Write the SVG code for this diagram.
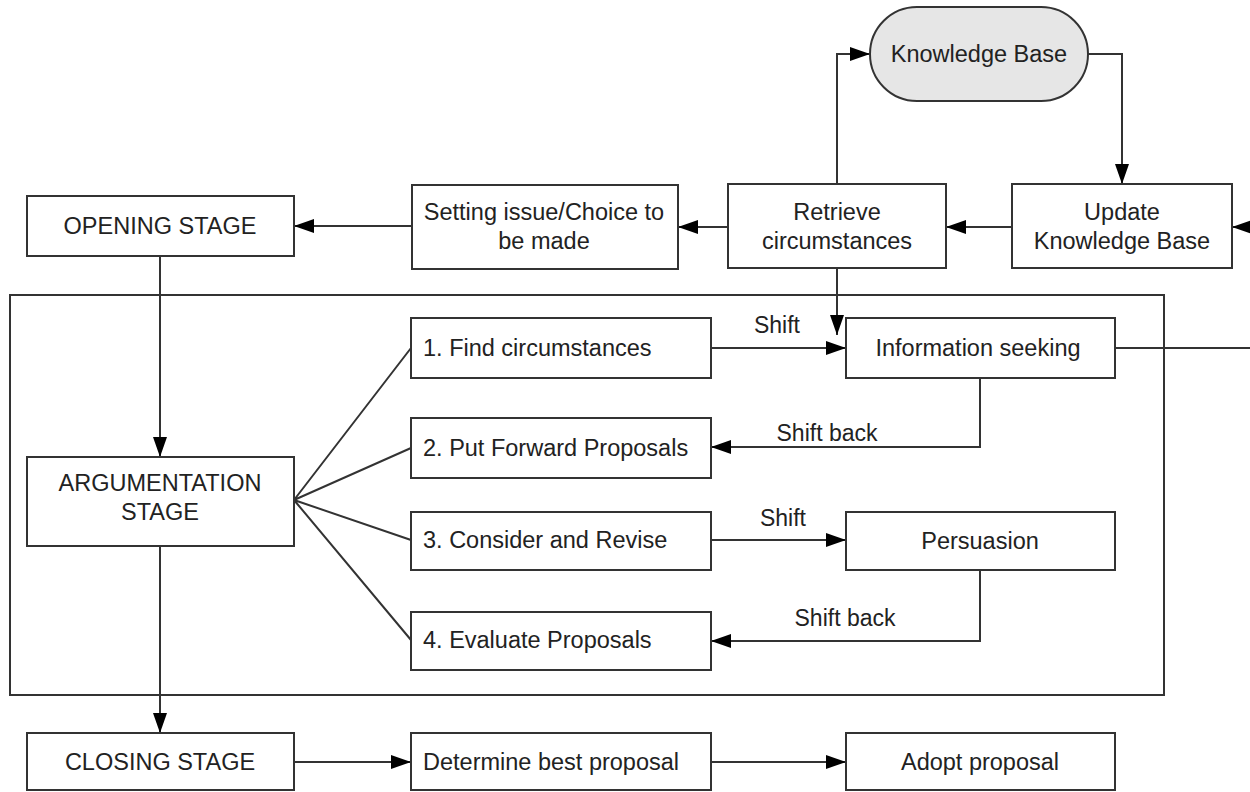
<svg xmlns="http://www.w3.org/2000/svg" width="1250" height="792" viewBox="0 0 1250 792">
<defs>
<style>
.box{fill:#ffffff;stroke:#333333;stroke-width:2}
.kb{fill:#e6e6e6;stroke:#333333;stroke-width:2}
.ln{fill:none;stroke:#333333;stroke-width:2}
.t{font-family:"Liberation Sans",Arial,sans-serif;font-size:23.5px;fill:#222222;text-anchor:middle;dominant-baseline:central}
.s{text-anchor:start}
.lb{font-family:"Liberation Sans",Arial,sans-serif;font-size:23px;fill:#222222;text-anchor:middle;dominant-baseline:central}
</style>
<marker id="ah" viewBox="0 0 20 14" refX="20" refY="7" markerWidth="20" markerHeight="14" markerUnits="userSpaceOnUse" orient="auto">
<path d="M0,0 L20,7 L0,14 Z" fill="#000000"/>
</marker>
</defs>
<rect width="1250" height="792" fill="#ffffff"/>
<g id="container"><rect x="10" y="295" width="1154" height="400" fill="none" stroke="#333333" stroke-width="2"/></g>
<g id="connectors">
<path class="ln" d="M1088,54 H1122 V184" marker-end="url(#ah)"/>
<path class="ln" d="M837,184 V54 H870" marker-end="url(#ah)"/>
<path class="ln" d="M1250,227 H1232" marker-end="url(#ah)"/>
<path class="ln" d="M1012,227 H946" marker-end="url(#ah)"/>
<path class="ln" d="M728,227 H678" marker-end="url(#ah)"/>
<path class="ln" d="M412,226 H294" marker-end="url(#ah)"/>
<path class="ln" d="M837,268 V335" marker-end="url(#ah)"/>
<path class="ln" d="M160,256 V457" marker-end="url(#ah)"/>
<path class="ln" d="M160,546 V733" marker-end="url(#ah)"/>
<path class="ln" d="M294,500 L411,348 M294,500 L411,448 M294,500 L411,540 M294,500 L411,640" stroke-width="1.5"/>
<path class="ln" d="M711,348 H846" marker-end="url(#ah)"/>
<path class="ln" d="M1115,348 H1250"/>
<path class="ln" d="M980,378 V447 H711" marker-end="url(#ah)"/>
<path class="ln" d="M711,540 H846" marker-end="url(#ah)"/>
<path class="ln" d="M980,570 V641 H711" marker-end="url(#ah)"/>
<path class="ln" d="M294,762 H411" marker-end="url(#ah)"/>
<path class="ln" d="M711,762 H846" marker-end="url(#ah)"/>
<text class="lb" x="777" y="325">Shift</text>
<text class="lb" x="827" y="433">Shift back</text>
<text class="lb" x="783" y="518">Shift</text>
<text class="lb" x="845" y="618">Shift back</text>
</g>
<g id="knowledge-base"><rect class="kb" x="870" y="7" width="218" height="94" rx="47" ry="47"/><text class="t" x="979" y="54">Knowledge Base</text></g>
<g id="update-kb"><rect class="box" x="1012" y="184" width="220" height="84"/><text class="t" x="1122" y="212">Update</text><text class="t" x="1122" y="241">Knowledge Base</text></g>
<g id="retrieve"><rect class="box" x="728" y="184" width="218" height="84"/><text class="t" x="837" y="212">Retrieve</text><text class="t" x="837" y="241">circumstances</text></g>
<g id="setting-issue"><rect class="box" x="412" y="185" width="266" height="84"/><text class="t" x="544" y="212">Setting issue/Choice to</text><text class="t" x="544" y="241">be made</text></g>
<g id="opening"><rect class="box" x="27" y="196" width="267" height="60"/><text class="t" x="160" y="226">OPENING STAGE</text></g>
<g id="argumentation"><rect class="box" x="27" y="457" width="267" height="89"/><text class="t" x="160" y="483">ARGUMENTATION</text><text class="t" x="160" y="512">STAGE</text></g>
<g id="find"><rect class="box" x="411" y="318" width="300" height="60"/><text class="t s" x="423" y="348">1. Find circumstances</text></g>
<g id="put-forward"><rect class="box" x="411" y="418" width="300" height="60"/><text class="t s" x="423" y="448">2. Put Forward Proposals</text></g>
<g id="consider"><rect class="box" x="411" y="512" width="300" height="58"/><text class="t s" x="423" y="540">3. Consider and Revise</text></g>
<g id="evaluate"><rect class="box" x="411" y="612" width="300" height="58"/><text class="t s" x="423" y="640">4. Evaluate Proposals</text></g>
<g id="info-seeking"><rect class="box" x="846" y="318" width="269" height="60"/><text class="t" x="978" y="348">Information seeking</text></g>
<g id="persuasion"><rect class="box" x="846" y="512" width="269" height="58"/><text class="t" x="980" y="541">Persuasion</text></g>
<g id="closing"><rect class="box" x="27" y="733" width="267" height="57"/><text class="t" x="160" y="762">CLOSING STAGE</text></g>
<g id="determine"><rect class="box" x="411" y="733" width="300" height="57"/><text class="t s" x="423" y="762">Determine best proposal</text></g>
<g id="adopt"><rect class="box" x="846" y="733" width="269" height="57"/><text class="t" x="980" y="762">Adopt proposal</text></g>
</svg>
